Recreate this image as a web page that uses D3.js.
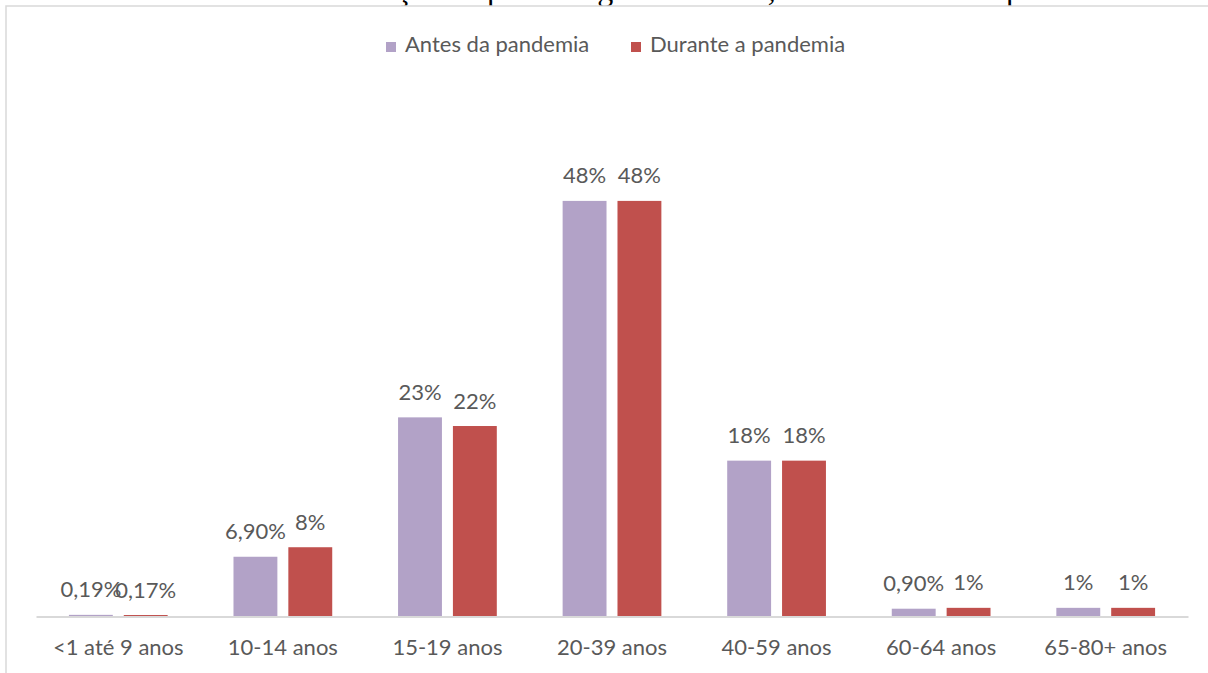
<!DOCTYPE html>
<html>
<head>
<meta charset="utf-8">
<script src="https://cdn.jsdelivr.net/npm/d3@7"></script>
<style>
  html, body { margin: 0; padding: 0; background: #fff; }
  svg { display: block; }
</style>
</head>
<body>
<svg id="chart" width="1208" height="673"></svg>
<script>
// Age groups and share of cases (%) before and during the pandemic
const categories = ["<1 até 9 anos", "10-14 anos", "15-19 anos", "20-39 anos", "40-59 anos", "60-64 anos", "65-80+ anos"];
const seriesNames = ["Antes da pandemia", "Durante a pandemia"];
const antes = [0.19, 6.9, 23, 48, 18, 0.9, 1];
const durante = [0.17, 8, 22, 48, 18, 1, 1];
const antesLabels = ["0,19%", "6,90%", "23%", "48%", "18%", "0,90%", "1%"];
const duranteLabels = ["0,17%", "8%", "22%", "48%", "18%", "1%", "1%"];
const colors = ["#b2a2c7", "#c0504d"];
const yMax = 60;

const titleText = "Tabela 4 – Faixa etária: Relação da porcentagem de casos, antes e durante a pandemia.";

const svg = d3.select("#chart");
const font = "Lato, 'Open Sans', sans-serif";
const fontSize = 22;
const textColor = "#595959";

// caption line of the page, running off the top edge
svg.append("text")
  .attr("x", 30)
  .attr("y", 0)
  .attr("font-family", "'Liberation Serif', 'Times New Roman', serif")
  .attr("font-size", 32)
  .attr("fill", "#000")
  .text(titleText);

// chart area border
svg.append("rect")
  .attr("x", 6).attr("y", 6)
  .attr("width", 1240).attr("height", 700)
  .attr("fill", "#fff")
  .attr("stroke", "#d9d9d9")
  .attr("stroke-width", 1.5);

const plot = { left: 36, right: 1188, top: 97, bottom: 616.5 };

const x0 = d3.scaleBand()
  .domain(categories)
  .range([plot.left, plot.right])
  .padding(0);

// two bars per group: bar width = step / 3.75, gap between the pair = 0.25 bar
const barW = x0.step() / 3.75;
const pairW = barW * 2.25;
const x1 = d3.scaleBand()
  .domain(seriesNames)
  .range([(x0.step() - pairW) / 2, (x0.step() + pairW) / 2])
  .paddingInner(0.2)
  .paddingOuter(0);

const y = d3.scaleLinear()
  .domain([0, yMax])
  .range([plot.bottom, plot.top]);

const rows = categories.map((c, i) => ({
  cat: c,
  bars: [
    { s: seriesNames[0], v: antes[i], label: antesLabels[i], color: colors[0] },
    { s: seriesNames[1], v: durante[i], label: duranteLabels[i], color: colors[1] }
  ]
}));

const groups = svg.append("g").selectAll("g")
  .data(rows)
  .join("g")
  .attr("transform", d => `translate(${x0(d.cat)},0)`);

groups.selectAll("rect")
  .data(d => d.bars)
  .join("rect")
  .attr("x", d => x1(d.s))
  .attr("y", d => y(d.v))
  .attr("width", x1.bandwidth())
  .attr("height", d => y(0) - y(d.v))
  .attr("fill", d => d.color);

groups.selectAll("text")
  .data(d => d.bars)
  .join("text")
  .attr("x", d => x1(d.s) + x1.bandwidth() / 2)
  .attr("y", d => y(d.v) - 17.5)
  .attr("text-anchor", "middle")
  .attr("font-family", font)
  .attr("font-size", fontSize)
  .attr("fill", textColor)
  .text(d => d.label);

// category axis
const xAxis = svg.append("g")
  .attr("transform", `translate(0,${plot.bottom})`)
  .call(d3.axisBottom(x0).tickSize(0).tickPadding(0));
xAxis.select(".domain").attr("stroke", "#d9d9d9").attr("stroke-width", 2);
xAxis.selectAll("text")
  .attr("dy", 0)
  .attr("y", 38)
  .attr("font-family", font)
  .attr("font-size", fontSize)
  .attr("fill", textColor);

// legend
const legend = svg.append("g");
const legendX = [386, 631];
seriesNames.forEach((name, i) => {
  legend.append("rect")
    .attr("x", legendX[i]).attr("y", 42)
    .attr("width", 10).attr("height", 10)
    .attr("fill", colors[i]);
  legend.append("text")
    .attr("x", legendX[i] + 19).attr("y", 51.5)
    .attr("font-family", font)
    .attr("font-size", fontSize)
    .attr("fill", textColor)
    .text(name);
});
</script>
</body>
</html>
